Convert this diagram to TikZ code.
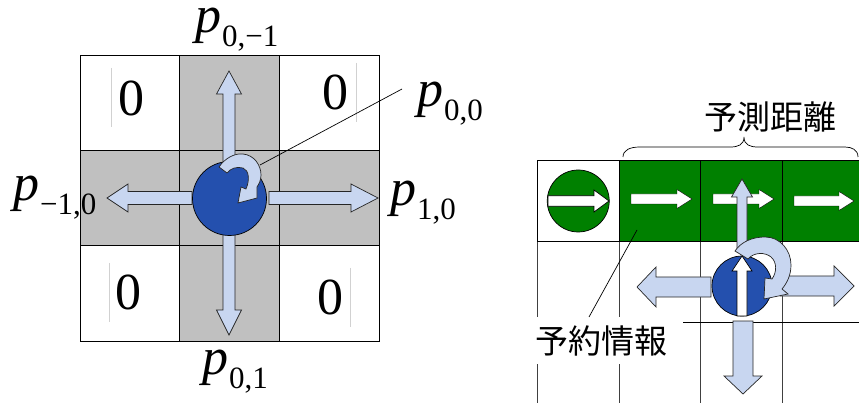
\documentclass[tikz,border=0pt]{standalone}
\usepackage{fontspec}
\setmainfont{Liberation Serif}
\newfontfamily\cjk{Noto Sans CJK JP}
\usepackage{xcolor}
\usetikzlibrary{positioning}

\definecolor{cellgray}{HTML}{C0C0C0}
\definecolor{arrowblue}{HTML}{C8D6F0}
\definecolor{ballblue}{HTML}{2450AE}
\definecolor{roadgreen}{HTML}{008000}

\newcommand{\plabel}[1]{\textit{p}\kern1pt\raisebox{-14pt}{\fontsize{31}{31}\selectfont #1}}
% style, start, angle, length, head length, head half width, shaft half width
\newcommand{\blockarrow}[7][bluearrow]{%
  \draw[#1, shift={(#2)}, rotate=#3] (0,-#7) -- (#4-#5,-#7) -- (#4-#5,-#6) -- (#4,0)
    -- (#4-#5,#6) -- (#4-#5,#7) -- (0,#7) -- cycle;}

\begin{document}
\begin{tikzpicture}[
  x=1pt, y=-1pt,
  cell/.style={rectangle, draw, line width=1pt, outer sep=0pt, inner sep=0pt, minimum width=99.8pt, minimum height=95.3pt},
  crosscell/.style={cell, fill=cellgray},
  road/.style={rectangle, draw, line width=1pt, outer sep=0pt, inner sep=0pt, minimum width=81.5pt, minimum height=81.7pt},
  gridline/.style={line width=1pt, black!75},
  ball/.style={circle, draw, line width=0.7pt, inner sep=0pt, outer sep=0pt},
  bluearrow/.style={fill=arrowblue, draw=black!85, line width=0.7pt},
  whitearrow/.style={fill=white},
  markarrow/.style={fill=white, draw=black, line width=0.7pt},
  zero/.style={font=\fontsize{52}{52}\selectfont, inner sep=0pt},
  plab/.style={font=\fontsize{52}{52}\selectfont, anchor=base west, inner sep=0pt},
  jalab/.style={font=\cjk\fontsize{33}{33}\selectfont, inner sep=0pt},
  faint/.style={line width=0.6pt, black!18},
  pointer/.style={line width=0.7pt},
]
  \useasboundingbox (0,0) rectangle (859,403);

  % left grid
  \node[cell] (nw) at (129.9,103) {};
  \node[crosscell, right=0pt of nw] (n) {};
  \node[cell, right=0pt of n] (ne) {};
  \node[crosscell, below=0pt of nw] (w) {};
  \node[crosscell, right=0pt of w] (c) {};
  \node[crosscell, right=0pt of c] (e) {};
  \node[cell, below=0pt of w] (sw) {};
  \node[crosscell, right=0pt of sw] (s) {};
  \node[cell, right=0pt of s] (se) {};

  \node[zero] (z1) at (131,98) {0};
  \node[zero] (z2) at (335,92) {0};
  \node[zero] (z3) at (128,292) {0};
  \node[zero] (z4) at (330,297) {0};
  \draw[faint] (111,68) -- (111,127);
  \draw[faint] (356,63) -- (356,122);
  \draw[faint] (109,263) -- (109,322);
  \draw[faint] (350,268) -- (350,327);

  \blockarrow{229,165}{90}{94}{23}{12.5}{6}
  \blockarrow{192,198}{180}{85}{21}{14}{6.5}
  \blockarrow{269,198}{0}{109}{27}{14}{6.5}
  \blockarrow{229,234}{-90}{101}{25}{12.5}{6}
  \node[ball, fill=ballblue, minimum size=74pt] (ballL) at (229.5,198.5) {};
  \coordinate (curlL) at (260,165);
  \coordinate (ptrL) at (402,89);
  \draw[pointer] (ptrL) -- (curlL);
  \draw[bluearrow] (219,167) .. controls (225,158) and (235,153) .. (243,154)
    .. controls (254,155) and (261,165) .. (261,175)
    .. controls (261,180) and (259,184) .. (257,187) -- (257,198) -- (238,203) -- (241,187) -- (246,189)
    .. controls (250,180) and (249,170) .. (243,168)
    .. controls (236,166) and (230,169) .. (227,173) -- cycle;

  \node[plab] (pN) at (195,33) {\plabel{0,−1}};
  \node[plab] (pC) at (417,107) {\plabel{0,0}};
  \node[plab] (pW) at (13,201) {\plabel{−1,0}};
  \node[plab] (pE) at (390,206) {\plabel{1,0}};
  \node[plab] (pS) at (202,374) {\plabel{0,1}};

  % right grid
  \node[road] (mark) at (578.25,201) {};
  \node[road, fill=roadgreen, right=0pt of mark] (g1) {};
  \node[road, fill=roadgreen, right=0pt of g1] (g2) {};
  \node[road, fill=roadgreen, right=0pt of g2, minimum width=78pt] (g3) {};
  \foreach \cellname in {mark,g1,g2,g3}
    \draw[gridline] (\cellname.south west) -- ++(0,162);
  \draw[line width=1pt] (683,322) -- (859,322);

  \blockarrow[whitearrow]{631,199}{0}{61}{15}{9.5}{5}
  \blockarrow[whitearrow]{713,199}{0}{61}{15}{9.5}{5}
  \blockarrow[whitearrow]{794,201}{0}{60}{15}{9.5}{5}
  \node[ball, fill=roadgreen, minimum size=62pt] (ballG) at (mark) {};
  \blockarrow[markarrow]{548,201}{0}{61}{15}{11}{5.3}

  \node[jalab, fill=white, minimum width=163pt, minimum height=47pt] (rsv) at (601.5,340.5) {予約情報};
  \coordinate (rsvtop) at (589,317);
  \coordinate (rsvtip) at (637,230);
  \draw[pointer] (rsvtop) -- (rsvtip);

  \blockarrow{742,252}{90}{73}{18}{10.5}{5}
  \blockarrow{711,287}{180}{74}{19}{20}{10}
  \blockarrow{780,286}{0}{74}{20}{20}{10}
  \blockarrow{743,321}{-90}{73}{18}{19}{10}
  \node[ball, fill=ballblue, minimum size=60pt] (ballR) at (742,286) {};
  \blockarrow[markarrow]{742,316}{90}{60}{15}{10}{5}
  \draw[bluearrow] (735,251) .. controls (741,242) and (752,237) .. (765,237)
    .. controls (780,237) and (791,250) .. (791,265)
    .. controls (791,275) and (787,283) .. (782,289) -- (788,294) -- (764,299) -- (765,278) -- (772,279)
    .. controls (777,272) and (777,262) .. (771,257)
    .. controls (765,252) and (754,252) .. (748,259) -- cycle;

  % brace over the green cells
  \draw[line width=0.7pt] (623,157) .. controls (623,150) and (630,147) .. (640,147) -- (730,147)
    .. controls (738,147) and (744,145) .. (744,137)
    .. controls (744,145) and (750,147) .. (758,147) -- (845,147)
    .. controls (852,147) and (858,150) .. (858,157);
  \node[jalab] (dist) at (770,117) {予測距離};
\end{tikzpicture}
\end{document}
